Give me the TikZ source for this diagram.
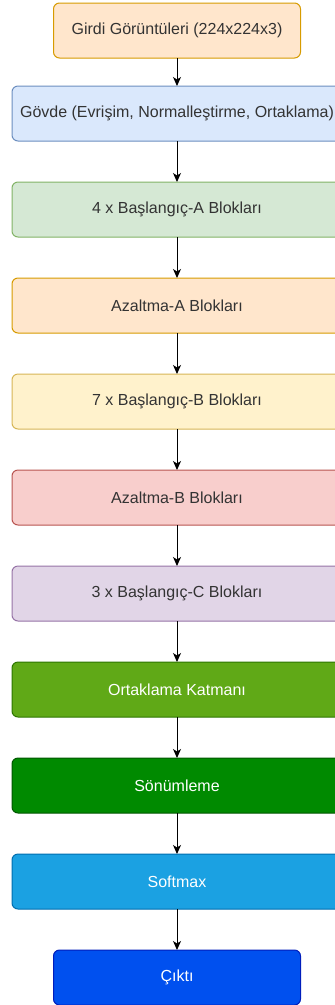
\documentclass[tikz,border=0pt]{standalone}
\usepackage{fontspec}
\setmainfont{Liberation Sans}
\usetikzlibrary{positioning,arrows.meta}

\definecolor{txt}{HTML}{333333}
\definecolor{orfill}{HTML}{FFE6CC}\definecolor{orline}{HTML}{D79B00}
\definecolor{blfill}{HTML}{DAE8FC}\definecolor{blline}{HTML}{6C8EBF}
\definecolor{grfill}{HTML}{D5E8D4}\definecolor{grline}{HTML}{82B366}
\definecolor{yefill}{HTML}{FFF2CC}\definecolor{yeline}{HTML}{D6B656}
\definecolor{refill}{HTML}{F8CECC}\definecolor{reline}{HTML}{B85450}
\definecolor{pufill}{HTML}{E1D5E7}\definecolor{puline}{HTML}{9673A6}
\definecolor{lgfill}{HTML}{60A917}\definecolor{lgline}{HTML}{2D7600}
\definecolor{dgfill}{HTML}{008A00}\definecolor{dgline}{HTML}{005700}
\definecolor{cyfill}{HTML}{1BA1E2}\definecolor{cyline}{HTML}{006EAF}
\definecolor{cofill}{HTML}{0050EF}\definecolor{coline}{HTML}{001DBC}

\begin{document}
\begin{tikzpicture}

 \tikzset{
    block/.style={draw, rounded corners=6pt, line width=1pt, inner sep=2pt, outer sep=0pt,
      minimum height=55pt, text=txt, font=\fontsize{16}{19}\selectfont},
    wide/.style={block, minimum width=330pt},
    narrow/.style={block, minimum width=247pt},
    white text/.style={text=white},
    flow/.style={line width=1pt, -{Stealth[length=9pt,width=8pt,inset=2.5pt]}},
    node distance=41pt,
  }

  \clip (0pt,0pt) rectangle (335pt,-1005pt);

  \node[narrow, fill=orfill, draw=orline] (input) at (177pt,-30.5pt) {Girdi Görüntüleri (224x224x3)};
  \node[wide, fill=blfill, draw=blline, below=28pt of input] (stem) {Gövde (Evrişim, Normalleştirme, Ortaklama)};
  \node[wide, fill=grfill, draw=grline, below=of stem] (incA) {4 x Başlangıç-A Blokları};
  \node[wide, fill=orfill, draw=orline, below=of incA] (redA) {Azaltma-A Blokları};
  \node[wide, fill=yefill, draw=yeline, below=of redA] (incB) {7 x Başlangıç-B Blokları};
  \node[wide, fill=refill, draw=reline, below=of incB] (redB) {Azaltma-B Blokları};
  \node[wide, fill=pufill, draw=puline, below=of redB] (incC) {3 x Başlangıç-C Blokları};
  \node[wide, fill=lgfill, draw=lgline, white text, below=of incC] (pool) {Ortaklama Katmanı};
  \node[wide, fill=dgfill, draw=dgline, white text, below=of pool] (drop) {Sönümleme};
  \node[wide, fill=cyfill, draw=cyline, white text, below=of drop] (soft) {Softmax};
  \node[narrow, fill=cofill, draw=coline, white text, below=of soft] (out) {Çıktı};

  % chain of layers, top to bottom
  \foreach \a/\b in {input/stem, stem/incA, incA/redA, redA/incB, incB/redB,
                     redB/incC, incC/pool, pool/drop, drop/soft, soft/out}
    \draw[flow] (\a) -- (\b);

\end{tikzpicture}
\end{document}
